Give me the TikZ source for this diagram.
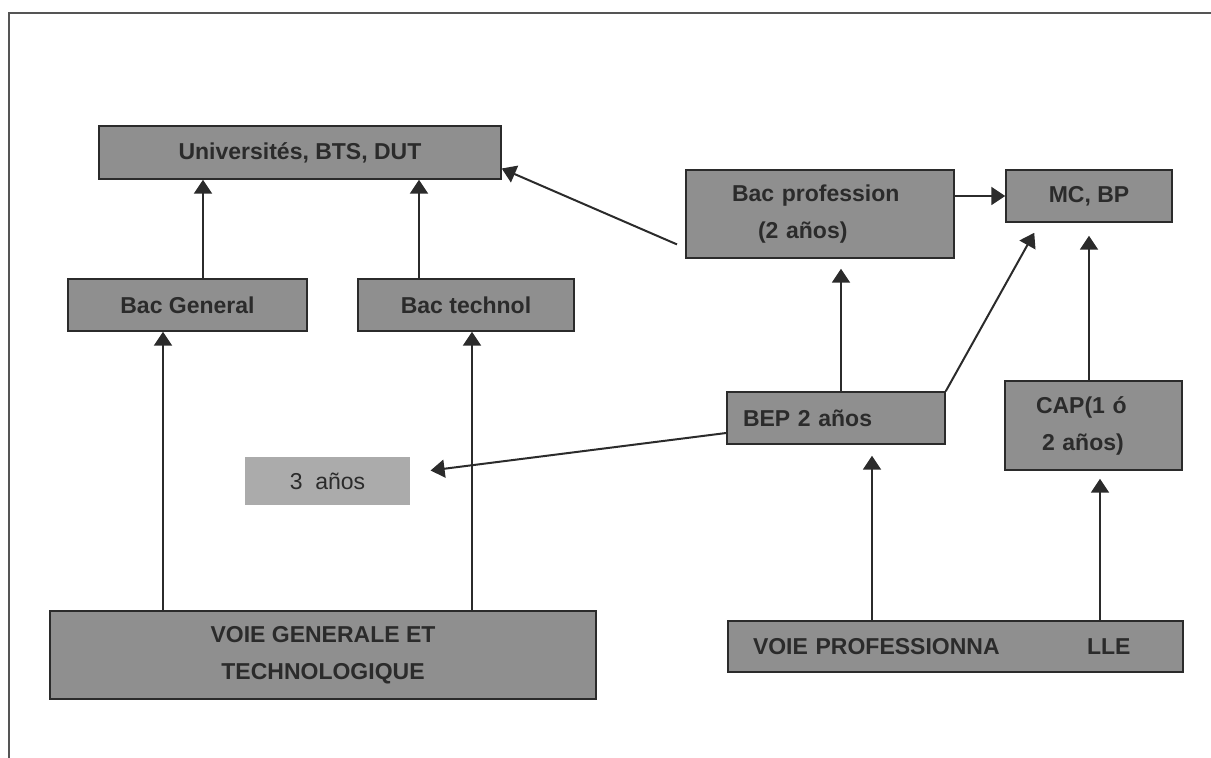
\documentclass[tikz,border=0pt]{standalone}
\usepackage{fontspec}
\setmainfont{Liberation Sans}
\usepackage{tikz}
\usetikzlibrary{positioning,calc,arrows.meta}
\usepackage{xcolor}
\definecolor{boxgray}{HTML}{8F8F8F}
\definecolor{palegray}{HTML}{ABABAB}
\definecolor{inkgray}{HTML}{2B2B2B}

\begin{document}
\begin{tikzpicture}[x=0.5pt,y=-0.5pt,
  box/.style={rectangle,draw=inkgray,line width=0.75pt,fill=boxgray,text=inkgray,
    font=\fontsize{11.5}{18.5}\selectfont\bfseries,inner sep=0pt},
  arr/.style={-{Triangle[length=7pt,width=9pt]},line width=1pt,draw=inkgray}]
\useasboundingbox (0,0) rectangle (1211,758);
\draw[line width=1pt,draw=inkgray!80] (9,758) -- (9,13) -- (1211,13);

\node[box,minimum width=201pt,minimum height=26.5pt] (univ) at (300,152.5) {Universités, BTS, DUT};
\node[box,minimum width=119.5pt,minimum height=26pt] (bacgen) at (187.5,305) {Bac General};
\node[box,minimum width=108pt,minimum height=26pt] (bactec) at (466,305) {Bac technol};
\node[box,minimum width=134pt,minimum height=44pt,text width=88pt,align=left] (bacpro) at (820,214) {Bac profession\\\hspace*{13pt}(2 años)};
\node[box,minimum width=83pt,minimum height=26pt] (mcbp) at (1089,196) {MC, BP};
\node[box,minimum width=109pt,minimum height=26pt,text width=93pt,align=left] (bep) at (836,418) {BEP 2 años};
\node[box,minimum width=88.5pt,minimum height=44.5pt,text width=57.5pt,align=left] (cap) at (1093.5,425.5) {CAP(1 ó\\\hspace*{3pt}2 años)};
\node[box,draw=none,fill=palegray,font=\fontsize{11.5}{18.5}\selectfont,minimum width=82.5pt,minimum height=24pt] (tres) at (327.5,481) {3\ \ años};
\node[box,minimum width=273pt,minimum height=44pt,align=center] (voiegen) at (323,655) {VOIE GENERALE ET\\TECHNOLOGIQUE};
\node[box,minimum width=227.5pt,minimum height=25.5pt,text width=202.5pt,align=left] (voiepro) at (955.5,646.5) {\makebox[167pt][l]{VOIE PROFESSIONNA}LLE};

\draw[arr] ([xshift=7.75pt]bacgen.north) -- ([xshift=7.75pt]bacgen.north |- univ.south);
\draw[arr] ([xshift=-23.5pt]bactec.north) -- ([xshift=-23.5pt]bactec.north |- univ.south);
\draw[arr,shorten <=4.5pt] ([yshift=-17pt]bacpro.west) -- ([yshift=-8pt]univ.east);
\draw[arr] (bacpro.east |- mcbp.west) -- (mcbp.west);
\draw[arr,shorten >=5pt] ([xshift=2.5pt]bep.north) -- ([xshift=2.5pt]bep.north |- bacpro.south);
\draw[arr,shorten >=5.75pt] (bep.north east) -- ([xshift=17.3pt]mcbp.south west);
\draw[arr,shorten >=6.5pt] ([xshift=-2.25pt]cap.north) -- ([xshift=-2.25pt]cap.north |- mcbp.south);
\draw[arr,shorten >=10pt] ([yshift=-7.5pt]bep.west) -- ([yshift=4pt]tres.east);
\draw[arr] ([xshift=-80pt]voiegen.north) -- ([xshift=-80pt]voiegen.north |- bacgen.south);
\draw[arr] ([xshift=74.5pt]voiegen.north) -- ([xshift=74.5pt]voiegen.north |- bactec.south);
\draw[arr,shorten >=5.5pt] ([xshift=-41.75pt]voiepro.north) -- ([xshift=-41.75pt]voiepro.north |- bep.south);
\draw[arr,shorten >=4pt] ([xshift=72.25pt]voiepro.north) -- ([xshift=72.25pt]voiepro.north |- cap.south);
\end{tikzpicture}
\end{document}
